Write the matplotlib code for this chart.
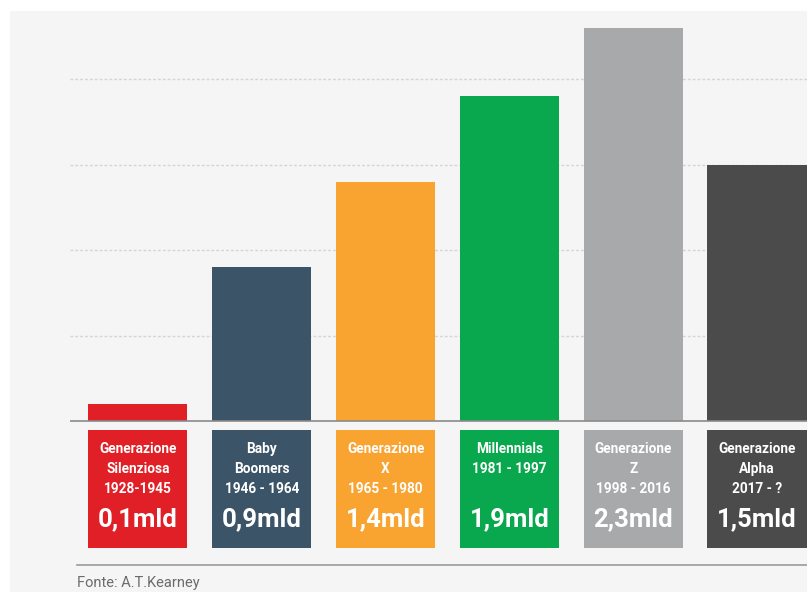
import matplotlib.pyplot as plt

# data
names = [["Generazione", "Silenziosa", "1928-1945"],
         ["Baby", "Boomers", "1946 - 1964"],
         ["Generazione", "X", "1965 - 1980"],
         ["Millennials", "1981 - 1997"],
         ["Generazione", "Z", "1998 - 2016"],
         ["Generazione", "Alpha", "2017 - ?"]]
values = [0.1, 0.9, 1.4, 1.9, 2.3, 1.5]
value_labels = ["0,1mld", "0,9mld", "1,4mld", "1,9mld", "2,3mld", "1,5mld"]
colors = ["#e01f26", "#3c5468", "#f9a331", "#0aa84e", "#a8a9ab", "#4b4b4b"]
grid_vals = [0.5, 1.0, 1.5, 2.0]

W, H = 807, 592
fig = plt.figure(figsize=(W / 100, H / 100), dpi=100)
fig.patch.set_facecolor("white")
bg = fig.add_axes([10 / W, 0, 1 - 10 / W, (H - 11) / H], zorder=0)
bg.set_facecolor("#f5f5f5")
bg.set_xticks([]); bg.set_yticks([])
for s in bg.spines.values():
    s.set_visible(False)

# pixel scale: baseline at y=421px, 171 px per unit
base = 421
scale = 171.0
def py(p):
    return (base - p) / scale

ax = fig.add_axes([70 / W, 0, (W - 70) / W, (H - 11) / H], zorder=2)
ax.set_facecolor("none")
x = list(range(len(values)))
ax.set_xlim(-0.549, 5.404)
ax.set_ylim(py(H), py(11))
ax.axis("off")

for g in grid_vals:
    ax.axhline(g, color="#d4d4d4", lw=1, ls=(0, (2, 1.5)), zorder=1)
ax.axhline(0, color="#8a8a8a", lw=1.2, zorder=3)

ax.bar(x, values, width=0.8, color=colors, zorder=2)

# label boxes
box_top, box_bot = py(430), py(548)
ax.bar(x, box_top - box_bot, bottom=box_bot, width=0.8, color=colors, zorder=2)

fam = ["Roboto", "DejaVu Sans"]
for i, lines in enumerate(names):
    for k, line in enumerate(lines):
        ax.text(i, py(449 + 20 * k), line, ha="center", va="center", color="white",
                fontsize=9.8, fontweight="bold", family=fam, zorder=4)
    ax.text(i, py(519), value_labels[i], ha="center", va="center", color="white",
            fontsize=18.5, fontweight="bold", family=fam, zorder=4)

# footer
fig.add_artist(plt.Line2D([77 / W, 1], [(H - 565) / H] * 2, color="#9a9a9a", lw=1.2, zorder=3))
fig.text(77 / W, (H - 583) / H, "Fonte: A.T.Kearney", ha="left", va="center",
         color="#6b6b6b", fontsize=10.5, family=fam, zorder=3)

fig.savefig("out.png", dpi=100)
